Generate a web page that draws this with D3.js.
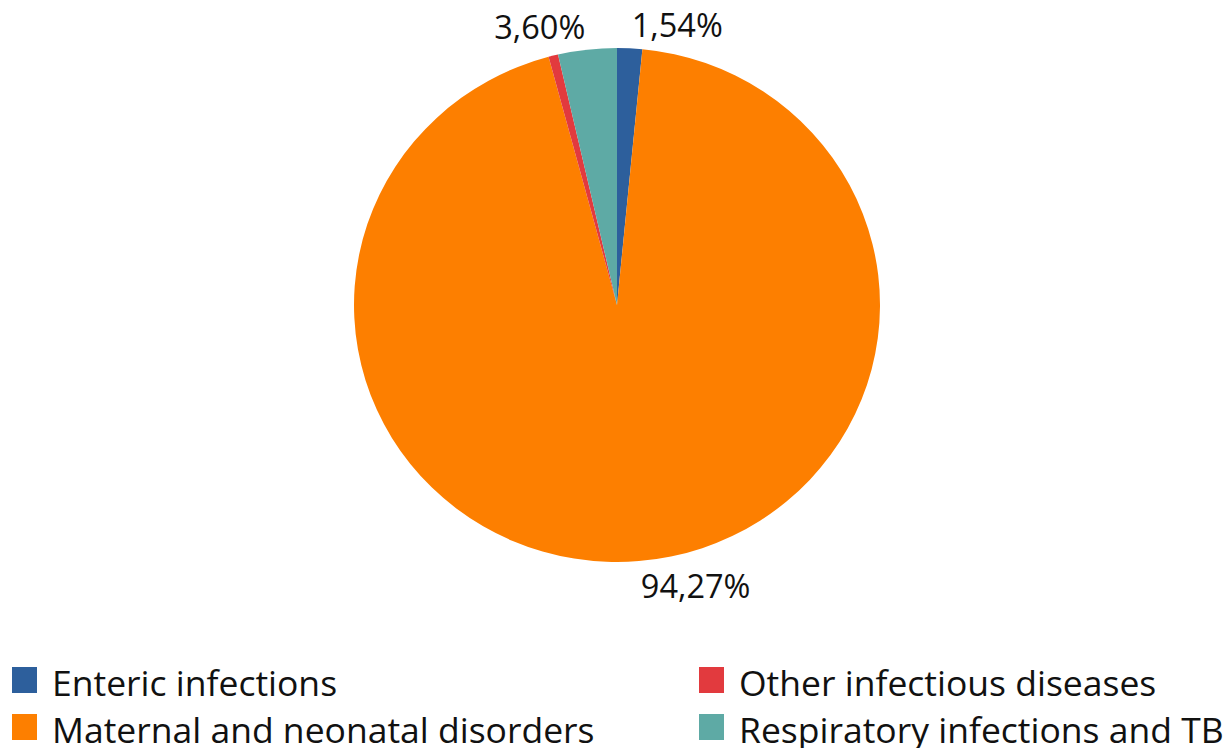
<!DOCTYPE html>
<html>
<head>
<meta charset="utf-8">
<script src="https://cdn.jsdelivr.net/npm/d3@7"></script>
<style>
  body { margin: 0; background: #fff; }
  text { font-family: "Open Sans", sans-serif; fill: #111; }
</style>
</head>
<body>
<div id="root"></div>
<script>
const WIDTH = 1226;
const HEIGHT = 748;

const categories = ["Enteric infections", "Maternal and neonatal disorders", "Other infectious diseases", "Respiratory infections and TB"];
const shares = [1.54, 94.27, 0.59, 3.60];
const labels = ["1,54%", "94,27%", "", "3,60%"];
const colors = ["#2d5f9c", "#fd7f00", "#e23a3e", "#5eaaa5"];

const CX = 617, CY = 305;
const RY = 257, RX = 263;

const data = categories.map((c, i) => ({name: c, value: shares[i], label: labels[i], color: colors[i]}));

const svg = d3.select("#root")
    .append("svg")
    .attr("width", WIDTH)
    .attr("height", HEIGHT);

const pie = d3.pie()
    .sort(null)
    .value(d => d.value);

const arc = d3.arc()
    .innerRadius(0)
    .outerRadius(RY);

const arcs = pie(data);

svg.append("g")
    .attr("transform", `translate(${CX},${CY}) scale(${RX / RY},1)`)
    .selectAll("path")
    .data(arcs)
    .enter()
    .append("path")
    .attr("d", arc)
    .attr("fill", d => d.data.color);

// labels sit just outside the rim at each slice's middle angle
svg.append("g")
    .selectAll("text")
    .data(arcs.filter(d => d.data.label))
    .enter()
    .append("text")
    .attr("x", d => {
        const a = (d.startAngle + d.endAngle) / 2;
        return CX + RX * Math.sin(a) + (Math.sin(a) >= 0 ? 2 : -2);
    })
    .attr("y", d => {
        const a = (d.startAngle + d.endAngle) / 2;
        const y = CY - RY * Math.cos(a);
        return Math.cos(a) > 0 ? y - 11 : y + 37;
    })
    .attr("text-anchor", d => Math.sin((d.startAngle + d.endAngle) / 2) >= 0 ? "start" : "end")
    .style("font-size", "32.5px")
    .text(d => d.data.label);

// legend, two columns
const legendX = d3.scalePoint().domain([0, 1]).range([12, 699]);
const legendY = d3.scalePoint().domain([0, 1]).range([667, 714]);

const item = svg.append("g")
    .selectAll("g")
    .data(data)
    .enter()
    .append("g")
    .attr("transform", (d, i) => `translate(${legendX(Math.floor(i / 2))},${legendY(i % 2)})`);

item.append("rect")
    .attr("width", 25)
    .attr("height", 26)
    .attr("fill", d => d.color);

item.append("text")
    .attr("x", 40)
    .attr("y", 29)
    .style("font-size", "35.5px")
    .text(d => d.name);
</script>
</body>
</html>
